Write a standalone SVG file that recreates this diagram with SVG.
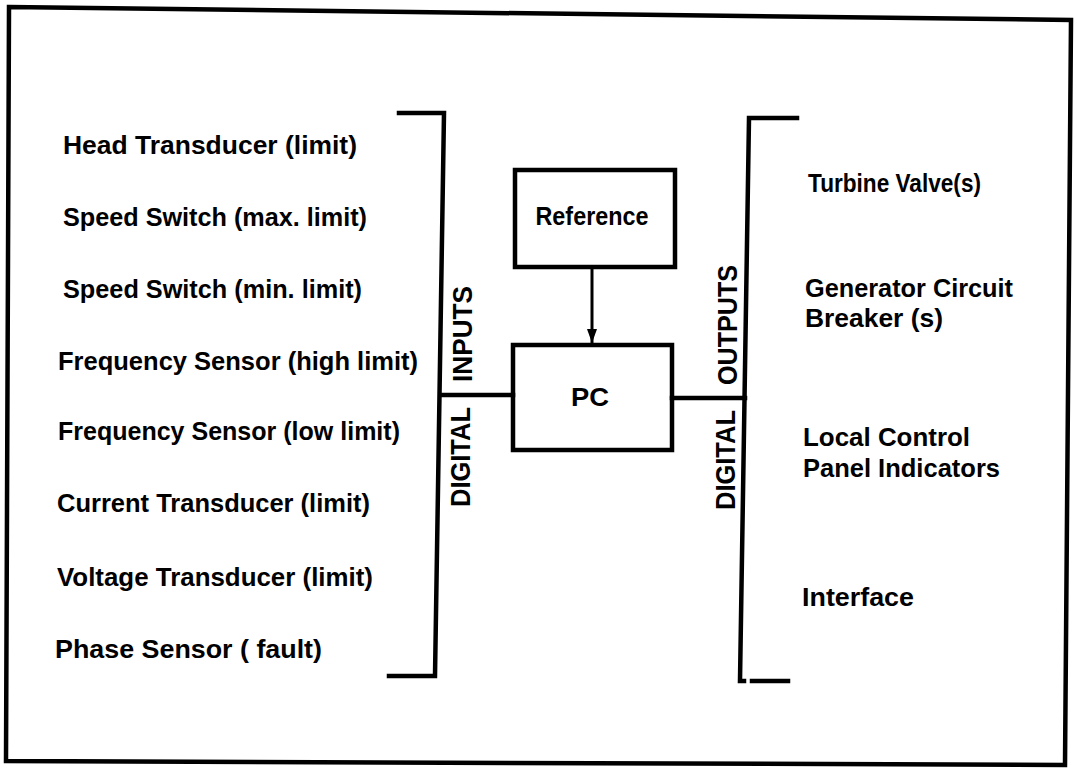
<svg xmlns="http://www.w3.org/2000/svg" width="1077" height="772" viewBox="0 0 1077 772">
<style>
.ln{fill:none;stroke:#000;stroke-width:4.5;stroke-linecap:square;stroke-linejoin:miter}
.t{font-family:"Liberation Sans",Arial,sans-serif;font-weight:bold;font-size:25px;fill:#000}
.v{font-family:"Liberation Sans",Arial,sans-serif;font-weight:bold;font-size:28px;fill:#000}
</style>
<defs>
<marker id="ah" markerWidth="14" markerHeight="10" refX="14" refY="5" orient="auto" markerUnits="userSpaceOnUse" viewBox="0 0 14 10">
<path d="M0,0 L14,5 L0,10 Z" fill="#000"/>
</marker>
</defs>
<rect width="1077" height="772" fill="#fff"/>
<g id="frame"><path class="ln" d="M9,7 L1071,20 L1065,765 L6,761 Z" stroke-width="5"/></g>
<g id="inputs">
<text class="t" x="63" y="154" textLength="294" lengthAdjust="spacingAndGlyphs">Head Transducer  (limit)</text>
<text class="t" x="63" y="226" textLength="304" lengthAdjust="spacingAndGlyphs">Speed Switch  (max. limit)</text>
<text class="t" x="63" y="298" textLength="299" lengthAdjust="spacingAndGlyphs">Speed Switch  (min. limit)</text>
<text class="t" x="58" y="370" textLength="360" lengthAdjust="spacingAndGlyphs">Frequency Sensor  (high limit)</text>
<text class="t" x="58" y="440" textLength="342" lengthAdjust="spacingAndGlyphs">Frequency Sensor  (low limit)</text>
<text class="t" x="57" y="512" textLength="313" lengthAdjust="spacingAndGlyphs">Current Transducer  (limit)</text>
<text class="t" x="57" y="586" textLength="316" lengthAdjust="spacingAndGlyphs">Voltage Transducer  (limit)</text>
<text class="t" x="55" y="658" textLength="267" lengthAdjust="spacingAndGlyphs">Phase Sensor  ( fault)</text>
</g>
<g id="outputs">
<text class="t" x="808" y="192" textLength="173" lengthAdjust="spacingAndGlyphs">Turbine Valve(s)</text>
<text class="t" x="805" y="297" textLength="208" lengthAdjust="spacingAndGlyphs">Generator  Circuit</text>
<text class="t" x="805" y="327" textLength="138" lengthAdjust="spacingAndGlyphs">Breaker (s)</text>
<text class="t" x="803" y="446" textLength="167" lengthAdjust="spacingAndGlyphs">Local  Control</text>
<text class="t" x="803" y="477" textLength="197" lengthAdjust="spacingAndGlyphs">Panel  Indicators</text>
<text class="t" x="802" y="606" textLength="112" lengthAdjust="spacingAndGlyphs">Interface</text>
</g>
<g id="digital-inputs">
<path class="ln" d="M399,113 L444,113 L435,676 L389,676"/>
<text class="v" transform="translate(472,334) rotate(-90)" text-anchor="middle" textLength="96" lengthAdjust="spacingAndGlyphs">INPUTS</text>
<text class="v" transform="translate(470,457) rotate(-90)" text-anchor="middle" textLength="100" lengthAdjust="spacingAndGlyphs">DIGITAL</text>
</g>
<g id="digital-outputs">
<path class="ln" d="M797,118 L749,118 L740,681 L744,681"/>
<path class="ln" d="M752,681 L788,681"/>
<text class="v" transform="translate(737,325) rotate(-90)" text-anchor="middle" textLength="120" lengthAdjust="spacingAndGlyphs">OUTPUTS</text>
<text class="v" transform="translate(735,460) rotate(-90)" text-anchor="middle" textLength="100" lengthAdjust="spacingAndGlyphs">DIGITAL</text>
</g>
<g id="reference">
<rect class="ln" x="515" y="170" width="160" height="97"/>
<text class="t" x="592" y="225" text-anchor="middle" textLength="113" lengthAdjust="spacingAndGlyphs">Reference</text>
</g>
<g id="pc">
<rect class="ln" x="513" y="345" width="159" height="105"/>
<text class="t" x="590" y="406" text-anchor="middle" textLength="38" lengthAdjust="spacingAndGlyphs">PC</text>
</g>
<g id="connectors">
<line x1="592" y1="268" x2="592" y2="343" stroke="#000" stroke-width="3" marker-end="url(#ah)"/>
<line class="ln" x1="442" y1="395" x2="513" y2="395"/>
<line class="ln" x1="672" y1="398" x2="745" y2="398"/>
</g>
</svg>
